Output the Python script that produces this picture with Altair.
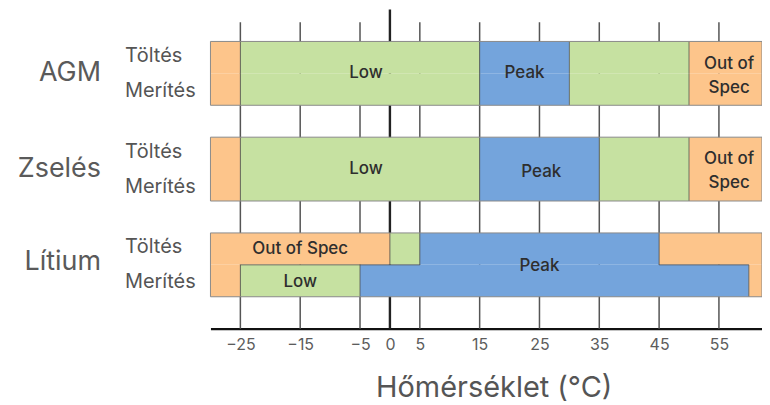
import altair as alt
import pandas as pd

# ---- data ----
X_MIN, X_MAX = -30, 62.2
tick_values = [-25, -15, -5, 0, 5, 15, 25, 35, 45, 55]

battery_names = ["AGM", "Zselés", "Lítium"]
battery_bottom = [7, 4, 1]   # bar bottom (y units)
battery_top = [9, 6, 3]      # bar top (y units)

# breakpoints and categories for each strip (charge = Töltés, discharge = Merítés)
charge_breaks = {
    "AGM":    [-30, -25, 15, 30, 50, X_MAX],
    "Zselés": [-30, -25, 15, 35, 50, X_MAX],
    "Lítium": [-30, 0, 5, 45, X_MAX],
}
charge_cats = {
    "AGM":    ["Out of Spec", "Low", "Peak", "Low", "Out of Spec"],
    "Zselés": ["Out of Spec", "Low", "Peak", "Low", "Out of Spec"],
    "Lítium": ["Out of Spec", "Low", "Peak", "Out of Spec"],
}
discharge_breaks = {
    "AGM":    [-30, -25, 15, 30, 50, X_MAX],
    "Zselés": [-30, -25, 15, 35, 50, X_MAX],
    "Lítium": [-30, -25, -5, 60, X_MAX],
}
discharge_cats = {
    "AGM":    ["Out of Spec", "Low", "Peak", "Low", "Out of Spec"],
    "Zselés": ["Out of Spec", "Low", "Peak", "Low", "Out of Spec"],
    "Lítium": ["Out of Spec", "Low", "Peak", "Out of Spec"],
}

lab_text = ["Low", "Peak", "Out of\nSpec",
            "Low", "Peak", "Out of\nSpec",
            "Out of Spec", "Low", "Peak"]
lab_x = [-4, 22.5, 56.7, -4, 25.3, 56.7, -15, -15, 25]
lab_y = [8.02, 8.02, 8.28, 5.0, 4.92, 5.31, 2.5, 1.47, 1.97]

battery_label_y = [8.02, 5.0, 2.08]
sub_names = ["Töltés", "Merítés", "Töltés", "Merítés", "Töltés", "Merítés"]
sub_y = [8.53, 7.45, 5.53, 4.45, 2.55, 1.47]

axis_title = "Hőmérséklet (°C)"
FONT = "Inter"

# ---- tables built from the data ----
fill_rows, edge_rows, outline_rows = [], [], []


def cat_at(brks, cats, x):
    for i in range(len(cats)):
        if brks[i] <= x < brks[i + 1]:
            return cats[i]
    return cats[-1]


for name, b, t in zip(battery_names, battery_bottom, battery_top):
    mid = (b + t) / 2
    outline_rows.append({"x0": X_MIN, "x1": X_MAX, "y0": b, "y1": t})
    for brks, cats, y0, y1 in [(charge_breaks[name], charge_cats[name], mid, t),
                               (discharge_breaks[name], discharge_cats[name], b, mid)]:
        for i, c in enumerate(cats):
            fill_rows.append({"x0": brks[i], "x1": brks[i + 1], "y0": y0, "y1": y1, "cat": c})
            if i > 0 and cats[i - 1] != c:
                edge_rows.append({"x0": brks[i], "x1": brks[i], "y0": y0, "y1": y1})
    # horizontal boundary between strips where categories differ
    cb, cc = charge_breaks[name], charge_cats[name]
    db, dc = discharge_breaks[name], discharge_cats[name]
    pts = sorted(set(cb) | set(db))
    for a, z in zip(pts[:-1], pts[1:]):
        m = (a + z) / 2
        if cat_at(cb, cc, m) != cat_at(db, dc, m):
            edge_rows.append({"x0": a, "x1": z, "y0": mid, "y1": mid})

fills = pd.DataFrame(fill_rows)
edges = pd.DataFrame(edge_rows)
outlines = pd.DataFrame(outline_rows)
labs = pd.DataFrame({"text": lab_text, "x": lab_x, "y": lab_y})
grid = pd.DataFrame({"x": tick_values,
                     "top": [10 if v == 0 else 9.6 for v in tick_values],
                     "bottom": [0] * len(tick_values),
                     "zero": [v == 0 for v in tick_values]})
bigl = pd.DataFrame({"name": battery_names, "y": battery_label_y, "x": [-48.3] * 3})
subl = pd.DataFrame({"name": sub_names, "y": sub_y, "x": [-44.3] * 6})

xscale = alt.Scale(domain=[X_MIN, X_MAX], nice=False, zero=False)
yscale = alt.Scale(domain=[0, 10], nice=False, zero=False)

xaxis = alt.Axis(values=tick_values, title=axis_title, grid=False, ticks=False,
                 domain=True, domainColor="#111", domainWidth=2.2,
                 labelFont=FONT, labelFontSize=16, labelColor="#5c5c5c", labelPadding=8,
                 titleFont=FONT, titleFontSize=29, titleColor="#555", titleFontWeight="normal",
                 titlePadding=21, titleX=284, titleAlign="center", labelFlush=False)

gridlines = alt.Chart(grid).mark_rule().encode(
    x=alt.X("x:Q", scale=xscale, axis=xaxis),
    y=alt.Y("bottom:Q", scale=yscale, axis=None),
    y2="top:Q",
    color=alt.condition("datum.zero", alt.value("#222"), alt.value("#555")),
    strokeWidth=alt.condition("datum.zero", alt.value(2.4), alt.value(1.5)),
)

bars = alt.Chart(fills).mark_rect(strokeWidth=0).encode(
    x=alt.X("x0:Q", scale=xscale),
    x2="x1:Q",
    y=alt.Y("y0:Q", scale=yscale),
    y2="y1:Q",
    fill=alt.Fill("cat:N", scale=alt.Scale(domain=["Out of Spec", "Low", "Peak"],
                                            range=["#FDC58B", "#C6E1A1", "#74A4DC"]),
                  legend=None),
)

edge_lines = alt.Chart(edges).mark_rule(color="#4a4a4a", strokeWidth=1, opacity=0.75).encode(
    x=alt.X("x0:Q", scale=xscale), x2="x1:Q",
    y=alt.Y("y0:Q", scale=yscale), y2="y1:Q",
)

outline = alt.Chart(outlines).mark_rect(fillOpacity=0, stroke="#8a8a8a", strokeWidth=1).encode(
    x=alt.X("x0:Q", scale=xscale), x2="x1:Q",
    y=alt.Y("y0:Q", scale=yscale), y2="y1:Q",
)

texts = alt.Chart(labs).mark_text(font=FONT, fontSize=17, fontWeight=500, color="#2e2e2e",
                                  lineBreak="\n", lineHeight=24, baseline="middle",
                                  align="center").encode(
    x=alt.X("x:Q", scale=xscale),
    y=alt.Y("y:Q", scale=yscale),
    text="text:N",
)

big = alt.Chart(bigl).mark_text(font=FONT, fontSize=27, color="#5a5a5a", align="right",
                                baseline="middle").encode(
    x=alt.X("x:Q", scale=xscale), y=alt.Y("y:Q", scale=yscale), text="name:N")

sub = alt.Chart(subl).mark_text(font=FONT, fontSize=20, color="#555", align="left",
                                baseline="middle").encode(
    x=alt.X("x:Q", scale=xscale), y=alt.Y("y:Q", scale=yscale), text="name:N")

chart = alt.layer(gridlines, bars, edge_lines, outline, texts, big, sub).properties(
    width=553, height=320,
    autosize=alt.AutoSizeParams(type="none"),
    padding={"left": 203, "top": 1, "right": 0, "bottom": 76},
).configure_view(stroke=None)

chart.save("out.html", embed_options={"renderer": "svg", "actions": False})
